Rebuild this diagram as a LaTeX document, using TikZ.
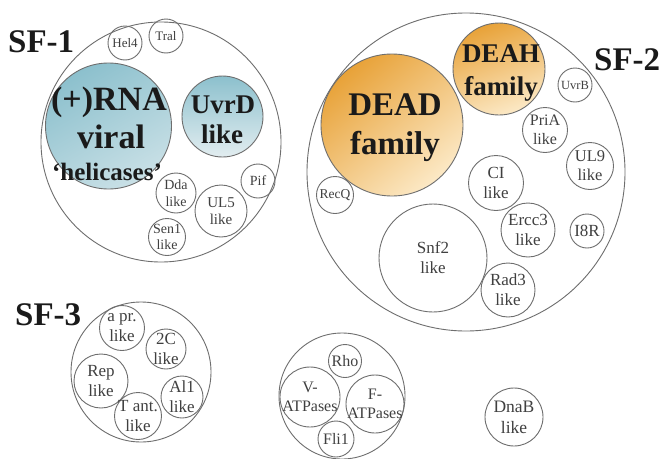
\documentclass[tikz,border=0pt]{standalone}
\usepackage{fontspec}
\setmainfont{Liberation Serif}
\definecolor{linecol}{HTML}{6E6E6E}
\definecolor{txtcol}{HTML}{404040}
\definecolor{boldcol}{HTML}{1A1A1A}
\definecolor{blueA}{HTML}{8CC0CD}
\definecolor{blueB}{HTML}{C9E0E6}
\definecolor{blueC}{HTML}{E2EDF0}
\definecolor{orA}{HTML}{E8A238}
\definecolor{orB}{HTML}{FCE9C6}
\newcommand\fsz[2]{\fontsize{#1}{#2}\selectfont}
\begin{document}
\begin{tikzpicture}[x=1pt,y=-1pt,
  bub/.style={circle, draw=linecol, line width=0.9pt, inner sep=0pt, minimum size=#1},
  lab/.style={text=txtcol, align=center, inner sep=0pt},
  big/.style={text=boldcol, inner sep=0pt, anchor=base},
  sf/.style={text=boldcol, font=\fsz{33}{36}\bfseries, inner sep=0pt, anchor=base west}]
\useasboundingbox[fill=white] (0,0) rectangle (661,458);

% ---------- SF-1 ----------
\node[bub=240pt] (sf1) at (161,142) {};
\node[sf] (sf1t) at (8,52) {SF-1};
\node[bub=34pt] (hel4) at (125,43) {};
\node[lab, font=\fsz{13}{15}] (hel4t) at (hel4) {Hel4};
\node[bub=34pt] (tral) at (166,36) {};
\node[lab, font=\fsz{13}{15}] (tralt) at (tral) {Tral};
\node[bub=126pt, top color=blueA, bottom color=blueB, shading angle=30] (rna) at (108.5,126) {};
\node[big, font=\fsz{34}{38}\bfseries] (rnat1) at (109,110) {(+)RNA};
\node[big, font=\fsz{34}{38}\bfseries] (rnat2) at (111,148) {viral};
\node[big, font=\fsz{25}{28}\bfseries] (rnat3) at (107,180) {`helicases'};
\node[bub=81pt, top color=blueA, bottom color=blueC] (uvrd) at (222.5,116.5) {};
\node[big, font=\fsz{27}{30}\bfseries] (uvrdt1) at (223,113) {UvrD};
\node[big, font=\fsz{27}{30}\bfseries] (uvrdt2) at (222,143) {like};
\node[bub=40pt] (dda) at (176,193) {};
\node[lab, font=\fsz{14}{16.5}] (ddat) at (dda) {Dda\\like};
\node[bub=52pt] (ul5) at (221,211) {};
\node[lab, font=\fsz{15}{17}] (ul5t) at (ul5) {UL5\\like};
\node[bub=34pt] (pif) at (258,181) {};
\node[lab, font=\fsz{14}{16}] (pift) at (pif) {Pif};
\node[bub=37pt] (sen1) at (167,237) {};
\node[lab, font=\fsz{14}{16.5}] (sen1t) at (sen1) {Sen1\\like};

% ---------- SF-2 ----------
\node[bub=318pt] (sf2) at (466,172) {};
\node[sf] (sf2t) at (594,70) {SF-2};
\node[bub=142pt, top color=orA, bottom color=orB, shading angle=40] (dead) at (392,125) {};
\node[big, font=\fsz{33}{36}\bfseries] (deadt1) at (395,115) {DEAD};
\node[big, font=\fsz{33}{36}\bfseries] (deadt2) at (395,154) {family};
\node[bub=92pt, top color=orA, bottom color=orB, shading angle=20] (deah) at (499,69) {};
\node[big, font=\fsz{27}{30}\bfseries] (deaht1) at (501,62) {DEAH};
\node[big, font=\fsz{27}{30}\bfseries] (deaht2) at (501,95) {family};
\node[bub=34pt] (uvrb) at (575,85) {};
\node[lab, font=\fsz{12.5}{14}] (uvrbt) at (uvrb) {UvrB};
\node[bub=45pt] (pria) at (545,130) {};
\node[lab, font=\fsz{16}{19}] (priat) at (pria) {PriA\\like};
\node[bub=47pt] (ul9) at (590,166) {};
\node[lab, font=\fsz{16.5}{19}] (ul9t) at (ul9) {UL9\\like};
\node[bub=55pt] (ci) at (496,183) {};
\node[lab, font=\fsz{17}{20}] (cit) at (ci) {CI\\like};
\node[bub=37pt] (recq) at (335,195) {};
\node[lab, font=\fsz{13.5}{15}] (recqt) at (recq) {RecQ};
\node[bub=108pt] (snf2) at (433,258) {};
\node[lab, font=\fsz{17}{20}] (snf2t) at (snf2) {Snf2\\like};
\node[bub=54pt] (ercc3) at (528,230) {};
\node[lab, font=\fsz{17}{20}] (ercc3t) at (ercc3) {Ercc3\\like};
\node[bub=34pt] (i8r) at (587,231) {};
\node[lab, font=\fsz{17}{20}] (i8rt) at (i8r) {I8R};
\node[bub=54pt] (rad3) at (508,290) {};
\node[lab, font=\fsz{17}{20}] (rad3t) at (rad3) {Rad3\\like};

% ---------- SF-3 ----------
\node[bub=140pt] (sf3) at (141,372) {};
\node[sf] (sf3t) at (15,325) {SF-3};
\node[bub=45pt] (apr) at (122,328) {};
\node[lab, font=\fsz{17}{20}] (aprt) at (apr) {a pr.\\like};
\node[bub=40pt] (c2) at (166,349) {};
\node[lab, font=\fsz{17}{20}] (c2t) at (c2) {2C\\like};
\node[bub=54pt] (rep) at (101,381) {};
\node[lab, font=\fsz{17}{20}] (rept) at (rep) {Rep\\like};
\node[bub=47pt] (tant) at (138,416) {};
\node[lab, font=\fsz{17}{20}] (tantt) at (tant) {T ant.\\like};
\node[bub=42pt] (al1) at (182,397) {};
\node[lab, font=\fsz{17}{20}] (al1t) at (al1) {Al1\\like};

% ---------- ATPases group ----------
\node[bub=126pt] (atp) at (342,396) {};
\node[bub=33pt] (rho) at (345,361) {};
\node[lab, font=\fsz{16}{19}] (rhot) at (rho) {Rho};
\node[bub=60pt] (vatp) at (310,397) {};
\node[lab, font=\fsz{16}{19}] (vatpt) at (vatp) {V-\\ATPases};
\node[bub=58pt] (fatp) at (375,404) {};
\node[lab, font=\fsz{16}{19}] (fatpt) at (fatp) {F-\\ATPases};
\node[bub=36pt] (fli1) at (336,439) {};
\node[lab, font=\fsz{16}{19}] (fli1t) at (fli1) {Fli1};

% ---------- DnaB ----------
\node[bub=58pt] (dnab) at (514,417) {};
\node[lab, font=\fsz{17.5}{21}] (dnabt) at (dnab) {DnaB\\like};
\end{tikzpicture}
\end{document}
